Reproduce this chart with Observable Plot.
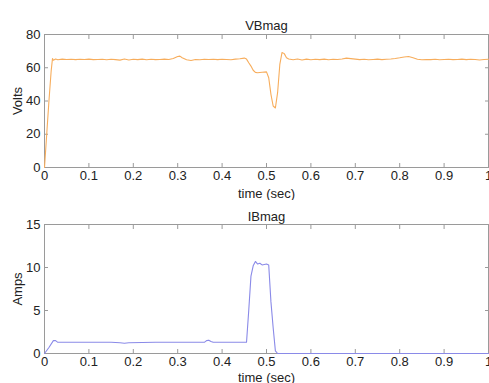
<!DOCTYPE html>
<html>
<head>
<meta charset="utf-8">
<script src="https://cdn.jsdelivr.net/npm/d3@7"></script>
<script src="https://cdn.jsdelivr.net/npm/@observablehq/plot@0.6"></script>
<style>
  html, body { margin: 0; padding: 0; background: #fff; }
  #wrap { width: 489px; height: 383px; overflow: hidden; background: #fff; }
  #wrap svg { display: block; }
</style>
</head>
<body>
<div id="wrap"></div>
<script>
// Bus B voltage magnitude (V) sampled over the 1 s simulation
const vbTime = [0, 0.005, 0.01, 0.015, 0.018, 0.02, 0.025, 0.03, 0.04, 0.05, 0.06, 0.07, 0.08, 0.09,
  0.10, 0.11, 0.12, 0.13, 0.14, 0.15, 0.16, 0.17, 0.18, 0.19, 0.20, 0.21, 0.22, 0.23, 0.24, 0.25,
  0.26, 0.27, 0.28, 0.29, 0.30, 0.305, 0.31, 0.32, 0.33, 0.34, 0.35, 0.36, 0.37, 0.38, 0.39, 0.40,
  0.41, 0.42, 0.43, 0.44, 0.45, 0.455, 0.46, 0.465, 0.47, 0.475, 0.48, 0.49, 0.50, 0.505, 0.51,
  0.515, 0.52, 0.525, 0.53, 0.535, 0.54, 0.545, 0.55, 0.56, 0.57, 0.58, 0.59, 0.60, 0.61, 0.62,
  0.63, 0.64, 0.65, 0.66, 0.67, 0.68, 0.69, 0.70, 0.71, 0.72, 0.73, 0.74, 0.75, 0.76, 0.77, 0.78,
  0.79, 0.80, 0.81, 0.82, 0.83, 0.84, 0.85, 0.86, 0.87, 0.88, 0.89, 0.90, 0.91, 0.92, 0.93, 0.94,
  0.95, 0.96, 0.97, 0.98, 0.99, 1.0];
const vbValue = [0, 20, 40, 58, 65.6, 64.5, 65.3, 64.8, 65.2, 65.0, 65.1, 64.9, 65.1, 65.0,
  65.2, 64.9, 65.0, 65.1, 64.8, 65.1, 64.9, 64.6, 65.3, 64.7, 65.1, 64.9, 65.2, 64.8, 65.1, 64.9,
  65.0, 65.2, 65.0, 65.6, 66.8, 67.0, 66.0, 64.8, 64.4, 65.0, 64.8, 65.1, 65.0, 65.1, 64.9, 65.1,
  65.0, 64.8, 65.2, 65.4, 65.8, 65.2, 63.0, 61.0, 58.5, 57.2, 57.0, 57.3, 57.5, 54.0, 44.0,
  37.0, 35.8, 45.0, 62.0, 69.2, 68.5, 66.0, 65.3, 64.8, 65.3, 64.7, 65.2, 64.8, 65.1, 64.9,
  65.2, 64.8, 65.1, 65.0, 65.3, 65.8, 65.5, 65.2, 64.9, 65.1, 64.8, 65.0, 65.2, 64.9, 65.1, 65.3,
  65.6, 66.0, 66.5, 66.8, 66.0, 65.1, 64.8, 65.0, 64.9, 65.1, 64.8, 65.0, 65.1, 64.9, 65.0, 65.2,
  64.9, 65.1, 65.0, 64.7, 65.0, 65.1];

// Bus B current magnitude (A)
const ibTime = [0, 0.01, 0.02, 0.025, 0.03, 0.05, 0.10, 0.15, 0.17, 0.18, 0.19, 0.25, 0.30, 0.36,
  0.365, 0.37, 0.375, 0.38, 0.42, 0.455, 0.46, 0.465, 0.47, 0.475, 0.48, 0.485, 0.49, 0.50, 0.505,
  0.51, 0.515, 0.52, 0.525, 0.60, 0.70, 0.80, 0.90, 1.0];
const ibValue = [0, 0.7, 1.5, 1.5, 1.3, 1.3, 1.3, 1.3, 1.25, 1.2, 1.25, 1.3, 1.3, 1.3,
  1.5, 1.55, 1.4, 1.3, 1.3, 1.3, 5.0, 9.0, 10.2, 10.7, 10.4, 10.5, 10.3, 10.4, 10.3,
  6.0, 3.0, 0.3, 0, 0, 0, 0, 0, 0];

const timeTicks = [0, 0.1, 0.2, 0.3, 0.4, 0.5, 0.6, 0.7, 0.8, 0.9, 1];
const voltTicks = [0, 20, 40, 60, 80];
const ampTicks = [0, 5, 10, 15];

const vbData = vbTime.map((t, i) => ({t, v: vbValue[i]}));
const ibData = ibTime.map((t, i) => ({t, v: ibValue[i]}));

const axisGrey = "#9a9a9a";
const textColor = "#222";
const plain = (d) => String(d);

function panel({data, title, yLabel, yDomain, yTicks, color, height, marginTop, marginBottom, titleDy, xLabelOffset}) {
  return Plot.plot({
    width: 489,
    height,
    marginLeft: 44,
    marginRight: 1,
    marginTop,
    marginBottom,
    style: {fontFamily: "'Liberation Sans', Arial, sans-serif", fontSize: "13px", color: textColor, background: "#fff"},
    x: {domain: [0, 1]},
    y: {domain: yDomain},
    marks: [
      Plot.frame({stroke: axisGrey}),
      Plot.axisX({anchor: "bottom", ticks: timeTicks, tickFormat: plain, tickSize: -4, tickPadding: 7, stroke: axisGrey, fill: textColor,
        label: "time (sec)", labelAnchor: "center", labelOffset: xLabelOffset, labelArrow: "none"}),
      Plot.axisX({anchor: "top", ticks: timeTicks, tickSize: -4, stroke: axisGrey, fill: "none", label: null}),
      Plot.axisY({anchor: "left", ticks: yTicks, tickFormat: plain, tickSize: -4, tickPadding: 8, stroke: axisGrey, fill: textColor,
        label: yLabel, labelAnchor: "center", labelOffset: 32, labelArrow: "none"}),
      Plot.axisY({anchor: "right", ticks: yTicks, tickSize: -4, stroke: axisGrey, fill: "none", label: null}),
      Plot.line(data, {x: "t", y: "v", stroke: color, strokeWidth: 1.1}),
      Plot.text([title], {frameAnchor: "top", dy: titleDy, fill: textColor, fontSize: 13})
    ]
  });
}

const wrap = document.getElementById("wrap");
wrap.append(panel({
  data: vbData, title: "VBmag", yLabel: "Volts", yDomain: [0, 80], yTicks: voltTicks,
  color: "#f7ad5c", height: 200, marginTop: 34, marginBottom: 33, titleDy: -14, xLabelOffset: 30
}));
wrap.append(panel({
  data: ibData, title: "IBmag", yLabel: "Amps", yDomain: [0, 15], yTicks: ampTicks,
  color: "#8a8ae8", height: 183, marginTop: 24, marginBottom: 30, titleDy: -13, xLabelOffset: 28
}));
</script>
</body>
</html>
